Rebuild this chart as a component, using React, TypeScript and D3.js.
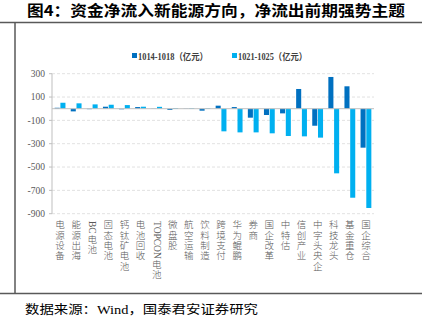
import React from 'react';
import * as d3 from 'd3';

const categories = ['电源设备','能源出海','BC电池','固态电池','钙钛矿电池','电池回收','TOPCON电池','微盘股','航空运输','饮料制造','跨境支付','华为鲲鹏','券商','国企改革','中特估','信创产业','中字头央企','科技龙头','基金重仓','国企综合'];
const seriesNames = ['1014-1018（亿元）', '1021-1025（亿元）'];
const series1 = [8, -23, -4, 17, -5, 14, 2, -10, 2, -17, 26, 14, -77, -54, -40, 169, -146, 272, 192, -334];
const series2 = [51, 46, 37, 34, 31, 17, 16, 6, 5, 5, -194, -203, -203, -211, -234, -237, -248, -554, -763, -851];
const yTicks = [300, 100, -100, -300, -500, -700, -900];
const colors = ['#0070C0', '#00B0F0'];

const W = 422, H = 328;
const plot = { left: 52, right: 374, top: 73.7, bottom: 213.7 };
const SERIF = '"Liberation Serif", "Times New Roman", "Noto Sans CJK SC", serif';

let ctx: CanvasRenderingContext2D | null = null;
function measure(text: string, fs: number) {
  if (!ctx) ctx = document.createElement('canvas').getContext('2d');
  if (!ctx) return text.length * fs * 0.6;
  ctx.font = `${fs}px "Liberation Serif"`;
  return ctx.measureText(text).width;
}

function VerticalLabel({ label, cx, top }: { label: string; cx: number; top: number }) {
  const fs = 9.5;
  const step = 10.3;
  const tokens: string[] = label.match(/[A-Za-z0-9]+|./g) || [];
  let cursor = top;
  const out: React.ReactNode[] = [];
  tokens.forEach((t, i) => {
    if (/^[A-Za-z0-9]+$/.test(t)) {
      const w = measure(t, fs);
      out.push(
        <text key={i} transform={`translate(${cx - fs * 0.33},${cursor + 1}) rotate(90)`}
          fontSize={fs} fontFamily={SERIF} fill="#595959">{t}</text>
      );
      cursor += w + 2;
    } else {
      out.push(
        <text key={i} x={cx} y={cursor + fs * 0.88} textAnchor="middle"
          fontSize={fs} fontWeight={300} fontFamily={SERIF} fill="#595959">{t}</text>
      );
      cursor += step;
    }
  });
  return <g>{out}</g>;
}

export default function App() {
  const x = d3.scaleBand<string>().domain(categories).range([plot.left, plot.right]).padding(0);
  const inner = d3.scaleBand<string>().domain(['a', 'b']).range([-5.4, 5.4]).paddingInner(0.12);
  const y = d3.scaleLinear().domain([-900, 300]).range([plot.bottom, plot.top]);
  const y0 = y(0);
  const data = [series1, series2];

  return (
    <svg width={W} height={H} style={{ position: 'absolute', left: 0, top: 0, background: '#fff' }}>
      <rect x={0} y={0} width={W} height={H} fill="#fff" />
      {/* title */}
      <text x={27} y={16} fontSize={15} fontWeight="bold" fontFamily='"Noto Sans CJK SC", sans-serif'
        fill="#000" textLength={378} lengthAdjust="spacingAndGlyphs">图4：资金净流入新能源方向，净流出前期强势主题</text>
      {/* frame */}
      <line x1={0} x2={W} y1={22.5} y2={22.5} stroke="#595959" strokeWidth={1.5} />
      <line x1={15} x2={15} y1={22.5} y2={293.5} stroke="#595959" strokeWidth={1.5} />
      <line x1={0} x2={W} y1={293.5} y2={293.5} stroke="#595959" strokeWidth={1.5} />
      {/* legend */}
      {seriesNames.map((n, i) => {
        const lx = i === 0 ? 132 : 232;
        return (
          <g key={n}>
            <rect x={lx} y={53} width={5} height={5} fill={colors[i]} />
            <text x={lx + 6} y={60} fontSize={9.5} fontWeight="bold" fontFamily={SERIF} fill="#404040"
              textLength={i === 0 ? 70 : 69} lengthAdjust="spacingAndGlyphs">{n}</text>
          </g>
        );
      })}
      {/* gridlines */}
      {yTicks.map(t => (
        <line key={t} x1={plot.left} x2={plot.right} y1={y(t)} y2={y(t)} stroke="#d9d9d9"
          strokeWidth={0.8} strokeDasharray="3,2" />
      ))}
      {/* y axis */}
      <line x1={plot.left} x2={plot.left} y1={plot.top} y2={plot.bottom} stroke="#bfbfbf" strokeWidth={1} />
      {yTicks.map(t => (
        <g key={'t' + t}>
          <line x1={plot.left - 3} x2={plot.left} y1={y(t)} y2={y(t)} stroke="#bfbfbf" strokeWidth={1} />
          <text x={45} y={y(t) + 3.3} textAnchor="end" fontSize={9.5} fontFamily={SERIF} fill="#595959">{t}</text>
        </g>
      ))}
      {/* bars */}
      {data.map((s, si) => (
        <g key={si}>
          {s.map((v, i) => {
            const cx = (x(categories[i]) as number) + x.bandwidth() / 2;
            const bx = cx + (inner(si === 0 ? 'a' : 'b') as number);
            const yy = y(v);
            return (
              <rect key={i} x={bx} width={inner.bandwidth()} y={Math.min(yy, y0)}
                height={Math.abs(yy - y0)} fill={colors[si]} />
            );
          })}
        </g>
      ))}
      {/* zero line */}
      <line x1={plot.left} x2={plot.right} y1={y0} y2={y0} stroke="#bfbfbf" strokeWidth={1} />
      {/* category labels */}
      {categories.map(c => (
        <VerticalLabel key={c} label={c} cx={(x(c) as number) + x.bandwidth() / 2} top={220} />
      ))}
      {/* source */}
      <text x={25} y={314} fontSize={12.5} fontFamily={SERIF} fill="#000"
        textLength={233} lengthAdjust="spacingAndGlyphs">数据来源：Wind，国泰君安证券研究</text>
    </svg>
  );
}
